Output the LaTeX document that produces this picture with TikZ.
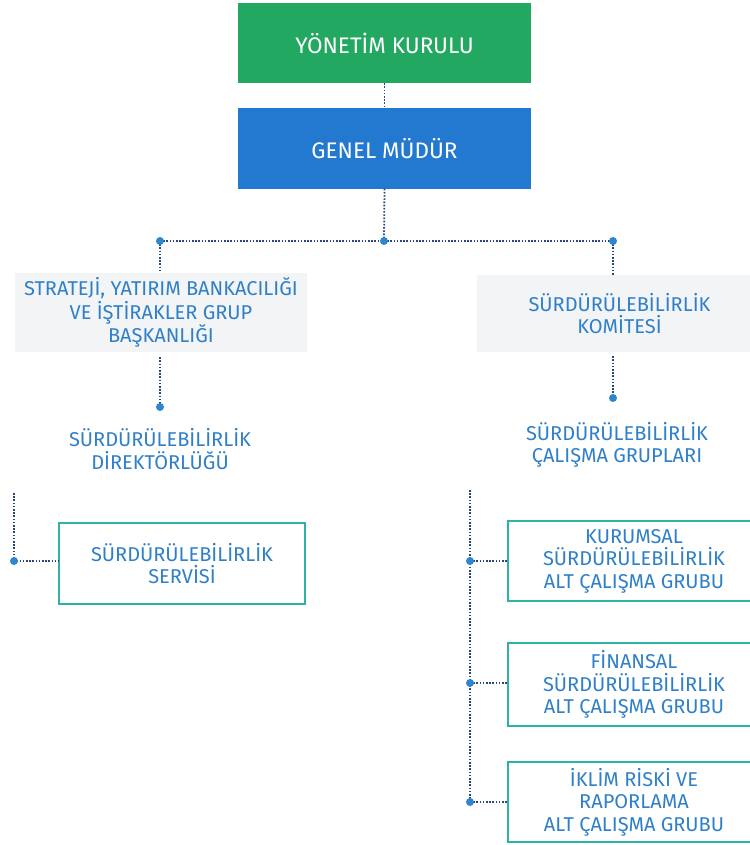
\documentclass[tikz,border=0pt]{standalone}
\usepackage{fontspec}
\setmainfont{Fira Sans}
\definecolor{ykgreen}{HTML}{22A861}
\definecolor{gmblue}{HTML}{2279CF}
\definecolor{txtblue}{HTML}{2F80C8}
\definecolor{teal}{HTML}{2DB3A6}
\definecolor{dotline}{HTML}{27487F}
\definecolor{dotfill}{HTML}{2E86D0}
\definecolor{lightgray}{HTML}{F3F4F5}
\begin{document}
\begin{tikzpicture}[x=1pt,y=-1pt,
  every node/.style={font=\fontsize{20}{22.5}\selectfont, align=center, inner sep=0pt},
  topbox/.style={minimum width=293pt, minimum height=80pt, text=white,
    font=\fontsize{22.5}{25}\selectfont},
  graybox/.style={fill=lightgray, text=txtblue},
  plain/.style={text=txtblue},
  tealbox/.style={draw=teal, line width=1.2pt, text=txtblue},
  conn/.style={draw=dotline, line width=1.8pt, dash pattern=on 1.6pt off 1.6pt},
  jdot/.style={circle, fill=dotfill, minimum size=8pt, inner sep=0pt}
]
\useasboundingbox (0,0) rectangle (749,845);
\fill[white] (0,0) rectangle (749,845);

\node[topbox, fill=ykgreen] (yk) at (384.5,43) {YÖNETİM KURULU};
\node[topbox, fill=gmblue] (gm) at (384.5,148.5) {GENEL MÜDÜR};

\node[graybox, minimum width=292pt, minimum height=79pt,
  font=\fontsize{20}{23.5}\selectfont] (strat) at (161,312.5)
  {STRATEJİ, YATIRIM BANKACILIĞI\\VE İŞTİRAKLER GRUP\\BAŞKANLIĞI};
\node[graybox, minimum width=285pt, minimum height=77pt] (kom) at (619.5,313.5)
  {SÜRDÜRÜLEBİLİRLİK\\KOMİTESİ};

\node[plain] (dir) at (160,449) {SÜRDÜRÜLEBİLİRLİK\\DİREKTÖRLÜĞÜ};
\node[plain] (cal) at (617,445) {SÜRDÜRÜLEBİLİRLİK\\ÇALIŞMA GRUPLARI};

\node[tealbox, minimum width=246pt, minimum height=81pt] (serv) at (182,563.5)
  {SÜRDÜRÜLEBİLİRLİK\\SERVİSİ};
\node[tealbox, minimum width=252pt, minimum height=80pt] (k1) at (634,561)
  {KURUMSAL\\SÜRDÜRÜLEBİLİRLİK\\ALT ÇALIŞMA GRUBU};
\node[tealbox, minimum width=252pt, minimum height=83pt] (k2) at (634,684.5)
  {FİNANSAL\\SÜRDÜRÜLEBİLİRLİK\\ALT ÇALIŞMA GRUBU};
\node[tealbox, minimum width=252pt, minimum height=80pt] (k3) at (634,802)
  {İKLİM RİSKİ VE\\RAPORLAMA\\ALT ÇALIŞMA GRUBU};

% junction coordinates
\coordinate (J) at (384,241);
\coordinate (L) at (160,241);
\coordinate (R) at (613,241);
\coordinate (dL) at (160,407);
\coordinate (dR) at (613,398);
\coordinate (lt) at (14,493);
\coordinate (lb) at (14,561);
\coordinate (rt) at (470,490);
\coordinate (r1) at (470,561);
\coordinate (r2) at (470,683);
\coordinate (r3) at (470,802);

\draw[conn] (yk.south) -- (gm.north);
\draw[conn] (gm.south) -- (J);
\draw[conn] (L) -- (R);
\draw[conn] (L) -- (strat.north -| L);
\draw[conn] (R) -- (kom.north -| R);
\draw[conn] ([yshift=-5pt]strat.south -| dL) -- (dL);
\draw[conn] ([yshift=-4pt]kom.south -| dR) -- (dR);
\draw[conn] (lt) -- (lb) -- (serv.west |- lb);
\draw[conn] (rt) -- (r3);
\draw[conn] (r1) -- (k1.west |- r1);
\draw[conn] (r2) -- (k2.west |- r2);
\draw[conn] (r3) -- (k3.west |- r3);

\foreach \p in {J,L,R,dL,dR,lb,r1,r2,r3}
  \node[jdot] at (\p) {};
\end{tikzpicture}
\end{document}
